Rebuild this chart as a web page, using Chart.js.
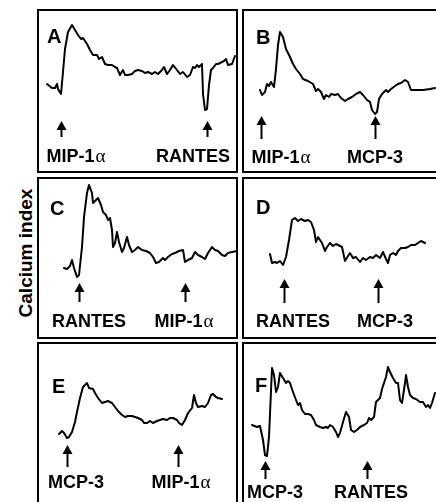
<!DOCTYPE html>
<html>
<head>
<meta charset="utf-8">
<script src="https://cdn.jsdelivr.net/npm/chart.js@4.4.0/dist/chart.umd.min.js"></script>
<style>
  html, body { margin: 0; padding: 0; background: #fff; }
  body { width: 436px; height: 502px; position: relative; overflow: hidden; font-family: "Liberation Sans", Arial, sans-serif; }
  .box { position: absolute; border: 2px solid #000; box-sizing: border-box; }
  canvas { position: absolute; }
  #ytitle { position: absolute; left: 26px; top: 253px; transform: translate(-50%, -50%) rotate(-90deg); font-weight: bold; font-size: 19px; white-space: nowrap; color: #000; }
</style>
</head>
<body>
<div id="ytitle">Calcium index</div>
<script>
// Calcium traces, six panels (time in arbitrary units, calcium index in arbitrary units)
const panelLetters = ['A', 'B', 'C', 'D', 'E', 'F'];

// Panel A: MIP-1α then RANTES
const timeA = [9,14,17,19,20,23,25,27,30,34,37,40,43,45,49,52,55,59,61,64,67,70,74,77,79,82,85,87,90,94,97,100,104,107,110,114,117,120,124,126,129,132,135,139,142,145,149,152,155,157,159,161,164,165,167,169,171,173,175,178,180,184,186,188,190,194,197];
const signalA = [88,84,84,88,83,78,100,123,140,147,142,137,133,134,128,122,117,117,113,115,108,107,107,105,104,97,102,97,97,98,101,102,101,99,100,98,100,98,102,105,98,102,107,102,98,100,95,97,105,104,107,105,108,78,62,63,87,102,104,108,108,110,111,113,107,108,116];
const arrowTimesA = [23, 169];
const arrowLabelsA = ['MIP-1α', 'RANTES'];
const labelTimesA = [38, 155];

// Panel B: MIP-1α then MCP-3
const timeB = [17,19,22,24,26,28,31,33,35,37,40,43,47,50,53,57,60,65,70,73,75,78,81,83,86,88,92,95,98,102,105,109,113,117,120,124,127,129,132,134,136,139,143,145,148,152,155,158,162,165,168,173,180,187,192];
const signalB = [82,77,80,88,86,90,85,103,127,140,135,123,115,108,103,98,93,91,88,81,83,80,73,77,75,78,77,78,74,71,73,75,78,80,77,72,70,62,58,60,73,78,82,80,83,86,88,89,92,90,82,82,82,83,84];
const arrowTimesB = [18, 132];
const arrowLabelsB = ['MIP-1α', 'MCP-3'];
const labelTimesB = [38, 132];

// Panel C: RANTES then MIP-1α
const timeC = [26,29,32,34,36,39,41,44,46,49,51,54,55,58,60,63,65,68,70,72,74,75,77,79,81,84,86,89,91,94,97,100,104,108,112,115,118,121,125,127,130,134,137,141,145,147,150,154,157,160,164,167,170,174,177,180,184,187,190,194,199];
const signalC = [70,69,72,78,70,61,63,91,121,145,153,145,135,138,140,133,126,123,118,120,108,91,95,106,96,86,90,101,93,86,88,91,88,87,85,81,75,76,80,78,81,84,85,87,88,76,78,80,86,83,81,79,85,91,88,87,83,82,85,86,87];
const arrowTimesC = [41, 147];
const arrowLabelsC = ['RANTES', 'MIP-1α'];
const labelTimesC = [51, 146];

// Panel D: RANTES then MCP-3
const timeD = [27,29,32,34,37,40,43,46,49,52,55,58,62,65,68,71,73,75,77,79,82,84,87,90,93,97,99,102,105,107,110,113,117,120,123,127,130,133,137,140,143,145,147,150,153,155,158,162,165,168,172,175,178,182];
const signalD = [84,75,76,75,77,73,81,98,118,120,117,119,117,118,116,108,96,101,98,95,87,91,95,92,94,92,91,77,82,85,80,81,76,80,78,81,80,83,80,86,79,75,83,85,83,87,90,90,91,93,93,95,97,95];
const arrowTimesD = [41, 135];
const arrowLabelsD = ['RANTES', 'MCP-3'];
const labelTimesD = [50, 142];

// Panel E: MCP-3 then MIP-1α
const timeE = [21,24,26,29,31,34,37,39,42,45,49,51,55,57,60,64,67,70,74,77,80,84,87,90,94,97,100,104,106,109,112,115,119,122,125,129,132,135,139,141,144,147,150,154,156,158,160,164,167,170,173,175,178,180,184];
const signalE = [69,72,70,65,66,71,81,91,105,116,120,115,114,110,105,100,101,102,100,96,92,88,86,87,87,86,85,83,80,80,82,80,82,83,84,83,85,85,83,80,78,83,90,95,108,100,96,97,96,100,108,109,106,105,104];
const arrowTimesE = [29, 140];
const arrowLabelsE = ['MCP-3', 'MIP-1α'];
const labelTimesE = [38, 143];

// Panel F: MCP-3 then RANTES
const timeF = [9,14,17,20,22,24,26,29,31,33,35,37,40,43,45,47,50,53,55,57,59,62,65,68,71,73,77,80,83,85,87,90,93,95,97,100,103,106,108,111,114,117,121,124,126,128,131,133,137,139,143,145,147,150,153,155,157,159,162,163,165,167,170,173,177,180,183,185,187,189,192];
const signalF = [78,76,77,63,48,47,66,135,128,111,116,130,125,120,122,120,111,103,98,100,93,89,89,88,83,78,76,75,76,75,78,76,71,66,70,81,91,86,73,71,73,76,78,80,85,83,86,101,105,114,126,136,131,125,120,120,103,100,120,128,116,108,105,104,101,101,96,98,95,100,110];
const arrowTimesF = [22, 124];
const arrowLabelsF = ['MCP-3', 'RANTES'];
const labelTimesF = [32, 128];

// placement of each panel on the page (px), and of its letter / arrows / labels inside it
const panels = [
  { time: timeA, signal: signalA, arrows: arrowTimesA, labels: arrowLabelsA, labelAt: labelTimesA,
    left: 38, top: 10, w: 200, h: 162, letterX: 9, letterY: 33, tipY: 111, tailY: 127, labelY: 152 },
  { time: timeB, signal: signalB, arrows: arrowTimesB, labels: arrowLabelsB, labelAt: labelTimesB,
    left: 243, top: 10, w: 193, h: 162, letterX: 13, letterY: 34, tipY: 106, tailY: 129, labelY: 153 },
  { time: timeC, signal: signalC, arrows: arrowTimesC, labels: arrowLabelsC, labelAt: labelTimesC,
    left: 38, top: 178, w: 200, h: 160, letterX: 12, letterY: 37, tipY: 105, tailY: 124, labelY: 149 },
  { time: timeD, signal: signalD, arrows: arrowTimesD, labels: arrowLabelsD, labelAt: labelTimesD,
    left: 243, top: 178, w: 193, h: 160, letterX: 13, letterY: 36, tipY: 101, tailY: 125, labelY: 149 },
  { time: timeE, signal: signalE, arrows: arrowTimesE, labels: arrowLabelsE, labelAt: labelTimesE,
    left: 38, top: 343, w: 200, h: 160, letterX: 14, letterY: 50, tipY: 102, tailY: 124, labelY: 145 },
  { time: timeF, signal: signalF, arrows: arrowTimesF, labels: arrowLabelsF, labelAt: labelTimesF,
    left: 243, top: 343, w: 193, h: 160, letterX: 12, letterY: 49, tipY: 118, tailY: 136, labelY: 155 }
];

// frames round the panels (right / bottom ones run off the page)
const frames = [
  [37, 9, 201, 164], [242, 9, 200, 164],
  [37, 177, 201, 162], [242, 177, 200, 162],
  [37, 342, 201, 170], [242, 342, 200, 170]
];
frames.forEach(f => {
  const d = document.createElement('div');
  d.className = 'box';
  d.style.left = f[0] + 'px'; d.style.top = f[1] + 'px';
  d.style.width = f[2] + 'px'; d.style.height = f[3] + 'px';
  document.body.appendChild(d);
});

const SANS_BOLD = 'bold 18px "Liberation Sans", Arial, sans-serif';
const GREEK = '19px "Liberation Serif", "DejaVu Serif", serif';

// label text: sans bold, but a trailing α set in a serif face like the figure
function drawLabel(ctx, text, cx, y) {
  let head = text, tail = '';
  if (text.endsWith('α')) { head = text.slice(0, -1); tail = 'α'; }
  ctx.font = SANS_BOLD;
  const w1 = ctx.measureText(head).width;
  ctx.font = GREEK;
  const w2 = tail ? ctx.measureText(tail).width + 1 : 0;
  const x0 = cx - (w1 + w2) / 2;
  ctx.textAlign = 'left';
  ctx.font = SANS_BOLD;
  ctx.fillText(head, x0, y);
  if (tail) {
    ctx.font = GREEK;
    ctx.fillText(tail, x0 + w1 + 1, y);
  }
}

// letter, stimulus arrows and their labels
const annotatePlugin = {
  id: 'annotate',
  afterDraw(chart, args, opts) {
    const p = opts.panel;
    const ctx = chart.ctx;
    const xs = chart.scales.x;
    ctx.save();
    ctx.fillStyle = '#000';
    ctx.strokeStyle = '#000';
    ctx.font = 'bold 20px "Liberation Sans", Arial, sans-serif';
    ctx.textAlign = 'left';
    ctx.textBaseline = 'alphabetic';
    ctx.fillText(p.letter, p.letterX, p.letterY);

    p.arrows.forEach((t, i) => {
      const x = Math.round(xs.getPixelForValue(t)) + 0.5;
      ctx.lineWidth = 2;
      ctx.beginPath();
      ctx.moveTo(x, p.tipY + 6);
      ctx.lineTo(x, p.tailY);
      ctx.stroke();
      ctx.beginPath();
      ctx.moveTo(x, p.tipY);
      ctx.lineTo(x - 5, p.tipY + 9);
      ctx.lineTo(x + 5, p.tipY + 9);
      ctx.closePath();
      ctx.fill();
      drawLabel(ctx, p.labels[i], xs.getPixelForValue(p.labelAt[i]), p.labelY);
    });
    ctx.restore();
  }
};

panels.forEach((p, i) => {
  const canvas = document.createElement('canvas');
  canvas.width = p.w; canvas.height = p.h;
  canvas.style.left = p.left + 'px'; canvas.style.top = p.top + 'px';
  canvas.style.width = p.w + 'px'; canvas.style.height = p.h + 'px';
  document.body.appendChild(canvas);

  new Chart(canvas.getContext('2d'), {
    type: 'line',
    data: {
      datasets: [{
        data: p.time.map((t, k) => ({ x: t, y: p.signal[k] })),
        borderColor: '#000',
        borderWidth: 2,
        pointRadius: 0,
        tension: 0,
        fill: false,
        clip: false,
        borderJoinStyle: 'round',
        borderCapStyle: 'round'
      }]
    },
    options: {
      responsive: false,
      animation: false,
      devicePixelRatio: 1,
      layout: { padding: 0 },
      plugins: {
        legend: { display: false },
        tooltip: { enabled: false },
        annotate: { panel: Object.assign({ letter: panelLetters[i] }, p) }
      },
      scales: {
        x: { type: 'linear', min: 0, max: p.w, display: false },
        y: { min: 0, max: p.h, display: false }
      }
    },
    plugins: [annotatePlugin]
  });
});
</script>
</body>
</html>
